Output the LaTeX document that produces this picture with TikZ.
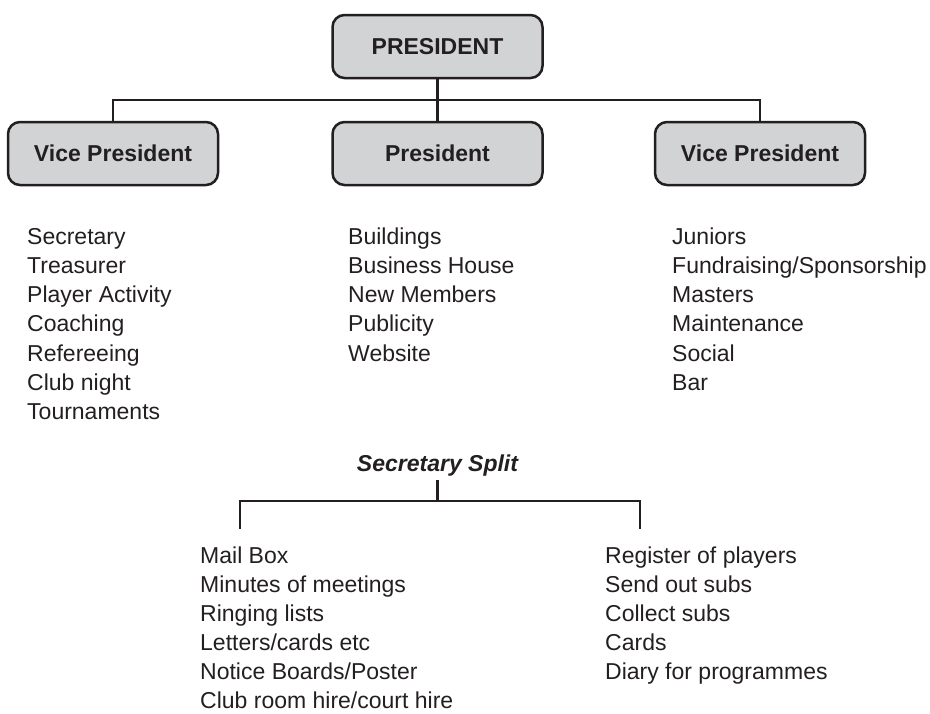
\documentclass[tikz,border=0pt]{standalone}
\usepackage{fontspec}
\setmainfont{Liberation Sans}
\begin{document}
\definecolor{ink}{HTML}{231F20}
\definecolor{boxgray}{HTML}{D2D3D5}
\begin{tikzpicture}[x=1pt,y=-1pt,
  every node/.style={text=ink},
  role/.style={draw=ink, line width=2.5pt, fill=boxgray, rounded corners=12pt,
    minimum width=210pt, minimum height=63pt, inner sep=0pt,
    font=\fontsize{23}{28}\selectfont\bfseries},
  item/.style={anchor=base west, inner sep=0pt, font=\fontsize{23}{28}\selectfont},
  link/.style={draw=ink, line width=2.5pt}]
\useasboundingbox (0,0) rectangle (930,713);

% executive boxes
\node[role] (top) at (437.5,46.5) {PRESIDENT};
\node[role] (vpl) at (113,153.5) {Vice President};
\node[role] (pres) at (437.5,153.5) {President};
\node[role] (vpr) at (760,153.5) {Vice President};

% connectors between the boxes
\coordinate (hub) at (437.5,100);
\draw[link] (top) -- (hub);
\draw[link] (vpl.north) |- (hub) -| (vpr.north);
\draw[link] (hub) -- (pres.north);

% duties under each officer
\foreach \t [count=\i] in {Secretary, Treasurer, Player Activity, Coaching,
    Refereeing, Club night, Tournaments}
  \node[item] (a\i) at (27,{244+29.3*(\i-1)}) {\t};
\foreach \t [count=\i] in {Buildings, Business House, New Members, Publicity, Website}
  \node[item] (b\i) at (348,{244+29.3*(\i-1)}) {\t};
\foreach \t [count=\i] in {Juniors, Fundraising/Sponsorship, Masters, Maintenance,
    Social, Bar}
  \node[item] (c\i) at (672,{244+29.3*(\i-1)}) {\t};

% secretary split
\node[anchor=base, inner sep=0pt, font=\fontsize{23}{28}\selectfont\bfseries\itshape]
  (ss) at (437.5,471) {Secretary Split};
\coordinate (sstop) at (437.5,480);
\coordinate (shub) at (437.5,501);
\coordinate (sl) at (240,529);
\coordinate (sr) at (640,529);
\draw[link] (sstop) -- (shub);
\draw[link] (sl) |- (shub) -| (sr);

\foreach \t [count=\i] in {Mail Box, Minutes of meetings, Ringing lists,
    Letters/cards etc, Notice Boards/Poster, Club room hire/court hire}
  \node[item] (d\i) at (200,{563+29*(\i-1)}) {\t};
\foreach \t [count=\i] in {Register of players, Send out subs, Collect subs, Cards,
    Diary for programmes}
  \node[item] (e\i) at (605,{563+29*(\i-1)}) {\t};
\end{tikzpicture}
\end{document}
